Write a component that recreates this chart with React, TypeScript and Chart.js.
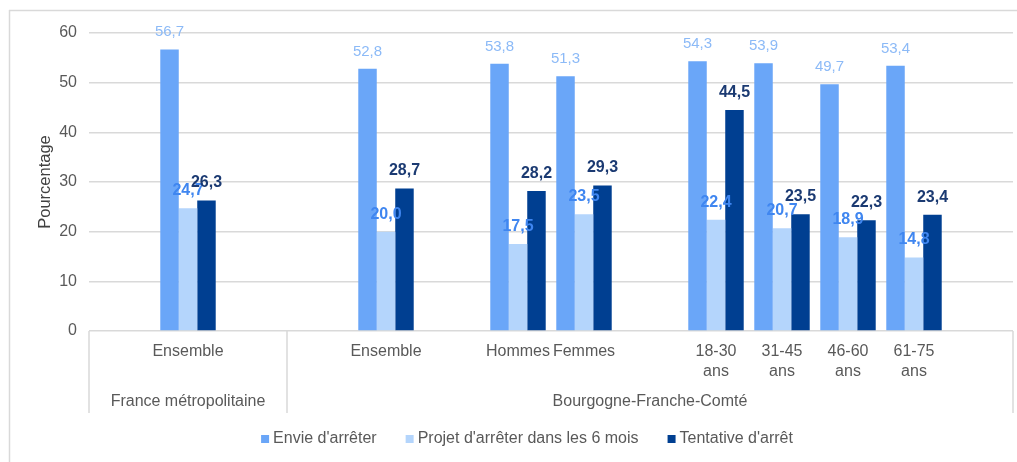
import React, { useEffect, useRef } from "react";
import { Chart, registerables } from "chart.js";

Chart.register(...registerables);

// ---- data ----
const categories: (string | string[])[] = [
  "",
  "Ensemble",
  "",
  "",
  "Ensemble",
  "",
  "Hommes",
  "Femmes",
  "",
  ["18-30", "ans"],
  ["31-45", "ans"],
  ["46-60", "ans"],
  ["61-75", "ans"],
  "",
];
const envie = [null, 56.7, null, null, 52.8, null, 53.8, 51.3, null, 54.3, 53.9, 49.7, 53.4, null];
const projet = [null, 24.7, null, null, 20.0, null, 17.5, 23.5, null, 22.4, 20.7, 18.9, 14.8, null];
const tentative = [null, 26.3, null, null, 28.7, null, 28.2, 29.3, null, 44.5, 23.5, 22.3, 23.4, null];
const groupLabels = ["France métropolitaine", "Bourgogne-Franche-Comté"];
const groupStarts = [0, 3];
const groupEnds = [2, 13];
const seriesNames = ["Envie d'arrêter", "Projet d'arrêter dans les 6 mois", "Tentative d'arrêt"];
const yMin = 0;
const yMax = 60;
const yStep = 10;

// ---- styles ----
const FONT = "'Liberation Sans', Arial, sans-serif";
const barColors = ["#6aa6f8", "#b4d5fc", "#003f91"];
const labelColors = ["#8cbaf7", "#3f86f0", "#1b3a72"];
const labelFonts = [`normal 15px ${FONT}`, `bold 16px ${FONT}`, `bold 16px ${FONT}`];
const LINE = "#d9d9d9";
const TEXT = "#595959";

const fmt = (v: number) => v.toFixed(1).replace(".", ",");

const customPlugin = {
  id: "custom",
  beforeDraw(chart: any) {
    const ctx = chart.ctx;
    ctx.save();
    ctx.strokeStyle = LINE;
    ctx.lineWidth = 1.5;
    ctx.beginPath();
    ctx.moveTo(9, 10.5);
    ctx.lineTo(chart.width, 10.5);
    ctx.moveTo(9.5, 10);
    ctx.lineTo(9.5, chart.height);
    ctx.stroke();
    ctx.restore();
  },
  afterDraw(chart: any) {
    const ctx = chart.ctx;
    const x = chart.scales.x;
    const area = chart.chartArea;
    const slot = (area.right - area.left) / categories.length;
    ctx.save();

    // category separators
    ctx.strokeStyle = LINE;
    ctx.lineWidth = 1.5;
    ctx.beginPath();
    const seps = [...groupStarts.map((s) => x.getPixelForValue(s) - slot / 2), area.right];
    seps.forEach((px) => {
      ctx.moveTo(px, area.bottom);
      ctx.lineTo(px, x.bottom);
    });
    ctx.stroke();

    // level-1 labels
    ctx.fillStyle = TEXT;
    ctx.textAlign = "center";
    ctx.textBaseline = "middle";
    ctx.font = `16px ${FONT}`;
    categories.forEach((c, i) => {
      const lines = Array.isArray(c) ? c : [c];
      const px = x.getPixelForValue(i);
      lines.forEach((ln, j) => {
        if (ln) ctx.fillText(ln, px, area.bottom + 21 + j * 20);
      });
    });

    // level-2 labels
    ctx.font = `16px ${FONT}`;
    groupLabels.forEach((g, k) => {
      const l = x.getPixelForValue(groupStarts[k]) - slot / 2;
      const r = x.getPixelForValue(groupEnds[k]) + slot / 2;
      ctx.fillText(g, (l + r) / 2, area.bottom + 71);
    });

    // data labels
    ctx.textBaseline = "alphabetic";
    chart.data.datasets.forEach((ds: any, di: number) => {
      const meta = chart.getDatasetMeta(di);
      ctx.font = labelFonts[di];
      ctx.fillStyle = labelColors[di];
      meta.data.forEach((el: any, i: number) => {
        const v = ds.data[i];
        if (v === null || v === undefined) return;
        ctx.fillText(fmt(v), el.x, el.y - 13);
      });
    });

    // legend
    ctx.font = `16px ${FONT}`;
    const box = 8;
    const gapBox = 4;
    const gapItem = 29;
    const widths = seriesNames.map((n) => ctx.measureText(n).width);
    const total = widths.reduce((a, w) => a + w + box + gapBox, 0) + gapItem * (seriesNames.length - 1);
    let lx = 527 - total / 2;
    const ly = 439;
    ctx.textAlign = "left";
    ctx.textBaseline = "middle";
    seriesNames.forEach((n, i) => {
      ctx.fillStyle = barColors[i];
      ctx.fillRect(lx, ly - box / 2, box, box);
      ctx.fillStyle = TEXT;
      ctx.fillText(n, lx + box + gapBox, ly);
      lx += box + gapBox + widths[i] + gapItem;
    });

    ctx.restore();
  },
};

export default function App() {
  const ref = useRef<HTMLCanvasElement | null>(null);
  useEffect(() => {
    if (!ref.current) return;
    const padLeft = 36;
    const chart = new Chart(ref.current, {
      type: "bar",
      data: {
        labels: categories.map((c) => (Array.isArray(c) ? c.join(" ") : c)),
        datasets: [envie, projet, tentative].map((d, i) => ({
          label: seriesNames[i],
          data: d,
          backgroundColor: barColors[i],
          borderWidth: 0,
          categoryPercentage: 0.84,
          barPercentage: 1,
        })),
      },
      options: {
        animation: false,
        responsive: false,
        layout: { padding: { left: padLeft, top: 33, right: 4, bottom: 49 } },
        plugins: {
          legend: { display: false },
          tooltip: { enabled: false },
        },
        scales: {
          x: {
            ticks: { display: false },
            grid: { display: false },
            border: { display: false },
            afterFit: (s: any) => {
              s.height = 82;
            },
          },
          y: {
            min: yMin,
            max: yMax,
            ticks: {
              stepSize: yStep,
              color: TEXT,
              font: { family: FONT, size: 16 },
              padding: 12,
            },
            grid: { color: LINE, lineWidth: 1.5, drawTicks: false },
            border: { display: false },
            title: {
              display: true,
              text: "Pourcentage",
              color: "#404040",
              font: { family: FONT, size: 16.5 },
              padding: 0,
            },
            afterFit: (s: any) => {
              s.width = 89 - padLeft;
            },
          },
        },
      },
      plugins: [customPlugin],
    });
    return () => chart.destroy();
  }, []);
  return (
    <div style={{ position: "absolute", left: 0, top: 0, width: 1017, height: 462, background: "#fff" }}>
      <canvas ref={ref} width={1017} height={462} style={{ display: "block" }} />
    </div>
  );
}
